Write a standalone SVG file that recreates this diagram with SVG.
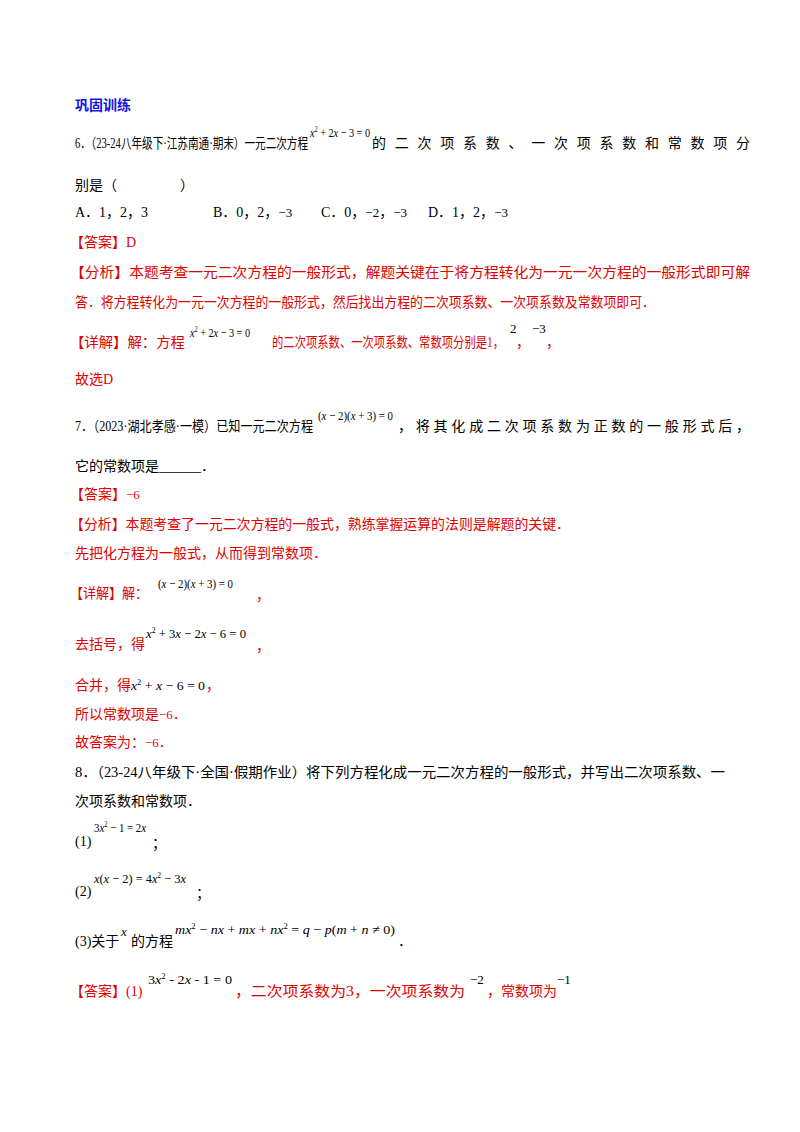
<svg xmlns="http://www.w3.org/2000/svg" width="800" height="1132" viewBox="0 0 800 1132">
<style>
text{font-family:"Liberation Serif","Noto Sans CJK SC",serif;font-size:14px;fill:#000}
.r{fill:#e00000}
.b{fill:#1414e6;font-weight:bold;font-family:"Noto Sans CJK SC",sans-serif}
.m{font-family:"Liberation Serif",serif;font-size:13px}
.i{font-style:italic}
</style>
<rect width="800" height="1132" fill="#fff"/>
<text class="b" x="75" y="110">巩固训练</text>
<text x="75" y="148" textLength="233" lengthAdjust="spacingAndGlyphs">6．（23-24八年级下·江苏南通·期末）一元二次方程</text>
<text class="m" x="310" y="137" textLength="60" lengthAdjust="spacingAndGlyphs"><tspan class="i">x</tspan><tspan dy="-5" font-size="8">2</tspan><tspan dy="5"> + 2</tspan><tspan class="i">x</tspan> − 3 = 0</text>
<text x="372" y="148" textLength="378" lengthAdjust="spacing">的二次项系数、一次项系数和常数项分</text>
<text x="75" y="190">别是（</text><text x="180" y="190">）</text>
<text x="75" y="217">A．1，2，3</text>
<text x="213" y="217">B．0，2，<tspan class="m">−3</tspan></text>
<text x="321" y="217">C．0，<tspan class="m">−2</tspan>，<tspan class="m">−3</tspan></text>
<text x="428" y="217">D．1，2，<tspan class="m">−3</tspan></text>
<text class="r" x="70" y="247">【答案】D</text>
<text class="r" x="70" y="277" textLength="680" lengthAdjust="spacingAndGlyphs">【分析】本题考查一元二次方程的一般形式，解题关键在于将方程转化为一元一次方程的一般形式即可解</text>
<text class="r" x="75" y="307" textLength="580" lengthAdjust="spacingAndGlyphs">答．将方程转化为一元一次方程的一般形式，然后找出方程的二次项系数、一次项系数及常数项即可．</text>
<text class="r" x="70" y="347" textLength="115" lengthAdjust="spacingAndGlyphs">【详解】解：方程</text>
<text class="m" x="190" y="337" textLength="60" lengthAdjust="spacingAndGlyphs"><tspan class="i">x</tspan><tspan dy="-5" font-size="8">2</tspan><tspan dy="5"> + 2</tspan><tspan class="i">x</tspan> − 3 = 0</text>
<text class="r" x="272" y="347" textLength="232" lengthAdjust="spacingAndGlyphs">的二次项系数、一次项系数、常数项分别是1，</text>
<text class="m" x="510" y="333">2</text><text class="r" x="516" y="347">，</text>
<text class="m" x="532" y="333">−3</text><text class="r" x="546" y="347">，</text>
<text class="r" x="75" y="384">故选D</text>
<text x="75" y="431" textLength="238" lengthAdjust="spacingAndGlyphs">7．（2023·湖北孝感·一模）已知一元二次方程</text>
<text class="m" x="318" y="420" textLength="75" lengthAdjust="spacingAndGlyphs">(<tspan class="i">x</tspan> − 2)(<tspan class="i">x</tspan> + 3) = 0</text>
<text x="398" y="431" textLength="352" lengthAdjust="spacing">，将其化成二次项系数为正数的一般形式后，</text>
<text x="75" y="471">它的常数项是______．</text>
<text class="r" x="70" y="499">【答案】<tspan class="m">−6</tspan></text>
<text class="r" x="70" y="529" textLength="500" lengthAdjust="spacingAndGlyphs">【分析】本题考查了一元二次方程的一般式，熟练掌握运算的法则是解题的关键．</text>
<text class="r" x="75" y="558">先把化方程为一般式，从而得到常数项．</text>
<text class="r" x="70" y="598" textLength="78" lengthAdjust="spacingAndGlyphs">【详解】解：</text>
<text class="m" x="158" y="588" textLength="75" lengthAdjust="spacingAndGlyphs">(<tspan class="i">x</tspan> − 2)(<tspan class="i">x</tspan> + 3) = 0</text>
<text class="r" x="256" y="600">，</text>
<text class="r" x="75" y="649">去括号，得</text>
<text class="m" x="146" y="638" textLength="100" lengthAdjust="spacingAndGlyphs"><tspan class="i">x</tspan><tspan dy="-5" font-size="8">2</tspan><tspan dy="5"> + 3</tspan><tspan class="i">x</tspan> − 2<tspan class="i">x</tspan> − 6 = 0</text>
<text class="r" x="256" y="651">，</text>
<text class="r" x="75" y="690">合并，得</text>
<text class="m" x="131" y="690" textLength="74" lengthAdjust="spacingAndGlyphs"><tspan class="i">x</tspan><tspan dy="-5" font-size="8">2</tspan><tspan dy="5"> + </tspan><tspan class="i">x</tspan> − 6 = 0</text>
<text class="r" x="206" y="690">，</text>
<text class="r" x="75" y="719">所以常数项是<tspan class="m">−6</tspan>．</text>
<text class="r" x="75" y="747">故答案为：<tspan class="m">−6</tspan>．</text>
<text x="75" y="777" textLength="650" lengthAdjust="spacingAndGlyphs">8．（23-24八年级下·全国·假期作业）将下列方程化成一元二次方程的一般形式，并写出二次项系数、一</text>
<text x="75" y="806">次项系数和常数项．</text>
<text x="75" y="846">(1)</text>
<text class="m" x="94" y="832" textLength="52" lengthAdjust="spacingAndGlyphs">3<tspan class="i">x</tspan><tspan dy="-5" font-size="8">2</tspan><tspan dy="5"> − 1 = 2</tspan><tspan class="i">x</tspan></text>
<text x="152" y="848">；</text>
<text x="75" y="896">(2)</text>
<text class="m" x="94" y="883" textLength="92" lengthAdjust="spacingAndGlyphs"><tspan class="i">x</tspan>(<tspan class="i">x</tspan> − 2) = 4<tspan class="i">x</tspan><tspan dy="-5" font-size="8">2</tspan><tspan dy="5"> − 3</tspan><tspan class="i">x</tspan></text>
<text x="196" y="898">；</text>
<text x="75" y="946">(3)关于</text>
<text class="m i" x="121" y="936">x</text>
<text x="131" y="946">的方程</text>
<text class="m" x="175" y="934" textLength="220" lengthAdjust="spacingAndGlyphs"><tspan class="i">mx</tspan><tspan dy="-5" font-size="8">2</tspan><tspan dy="5"> − </tspan><tspan class="i">nx</tspan> + <tspan class="i">mx</tspan> + <tspan class="i">nx</tspan><tspan dy="-5" font-size="8">2</tspan><tspan dy="5"> = </tspan><tspan class="i">q</tspan> − <tspan class="i">p</tspan>(<tspan class="i">m</tspan> + <tspan class="i">n</tspan> ≠ 0)</text>
<text x="398" y="946">．</text>
<text class="r" x="70" y="996">【答案】(1)</text>
<text class="m" x="148" y="984" textLength="84" lengthAdjust="spacingAndGlyphs">3<tspan class="i">x</tspan><tspan dy="-5" font-size="8">2</tspan><tspan dy="5"> - 2</tspan><tspan class="i">x</tspan> - 1 = 0</text>
<text class="r" x="235" y="996" textLength="230" lengthAdjust="spacingAndGlyphs">，二次项系数为3，一次项系数为</text>
<text class="m" x="470" y="984">−2</text>
<text class="r" x="487" y="996">，常数项为</text>
<text class="m" x="557" y="984">−1</text>
</svg>
